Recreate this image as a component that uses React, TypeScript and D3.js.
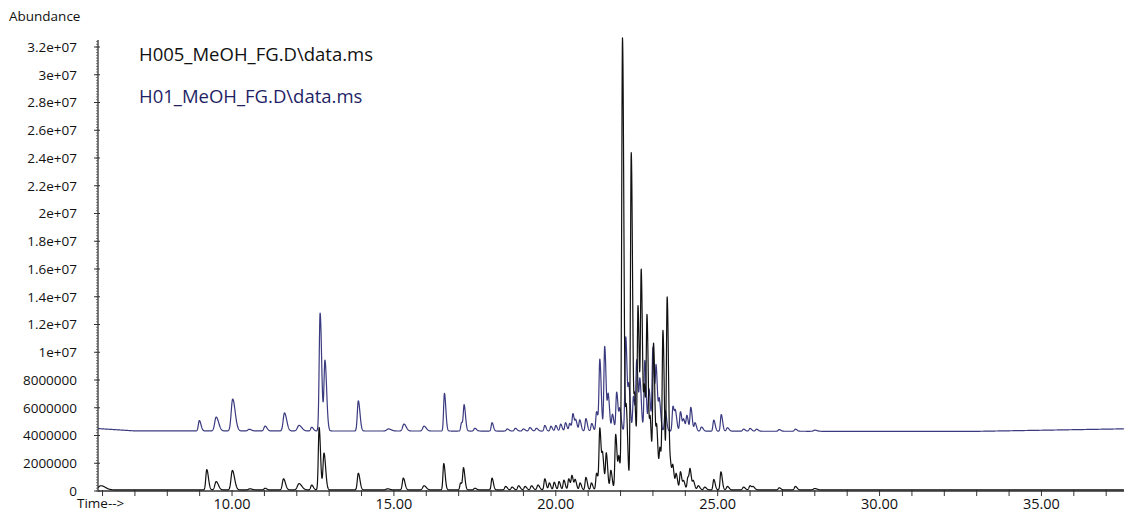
import React from "react";
import * as d3 from "d3";

// Chromatogram peaks: [retention time (min), height above baseline (×1e6 counts), width (min)]
const peaksH005: [number, number, number][] = [
  [5.95, 0.3, 0.08], [9.22, 1.46, 0.03], [9.51, 0.6, 0.04], [10.01, 1.4, 0.04], [10.55, 0.08, 0.04],
  [11.02, 0.12, 0.03], [11.59, 0.8, 0.035], [12.07, 0.45, 0.05], [12.46, 0.35, 0.03],
  [12.69, 4.5, 0.025], [12.84, 2.65, 0.03], [13.9, 1.2, 0.03], [14.8, 0.08, 0.04],
  [15.29, 0.85, 0.03], [15.93, 0.3, 0.04], [16.54, 1.9, 0.025], [17.06, 0.5, 0.025],
  [17.15, 1.55, 0.025], [17.5, 0.12, 0.03], [18.03, 0.85, 0.025], [18.45, 0.25, 0.03],
  [18.65, 0.2, 0.03], [18.85, 0.3, 0.03], [19.05, 0.25, 0.03], [19.25, 0.3, 0.03],
  [19.45, 0.35, 0.03], [19.66, 0.8, 0.025], [19.8, 0.5, 0.025], [19.95, 0.55, 0.025],
  [20.1, 0.6, 0.025], [20.25, 0.7, 0.025], [20.4, 0.8, 0.025], [20.5, 1.0, 0.025],
  [20.6, 0.7, 0.025], [20.75, 0.5, 0.025], [20.93, 0.9, 0.025], [21.1, 0.5, 0.025],
  [21.26, 1.2, 0.025], [21.36, 4.4, 0.025], [21.45, 2.2, 0.025], [21.56, 2.6, 0.025],
  [21.7, 1.4, 0.025], [21.85, 4.0, 0.025], [21.95, 2.2, 0.025], [22.06, 32.5, 0.025],
  [22.18, 5.5, 0.025], [22.33, 24.3, 0.025], [22.44, 6.0, 0.025], [22.54, 12.9, 0.025],
  [22.64, 15.1, 0.025], [22.74, 6.5, 0.025], [22.82, 11.5, 0.025], [22.92, 4.5, 0.025],
  [23.02, 10.3, 0.025], [23.12, 4.0, 0.025], [23.22, 2.8, 0.025], [23.31, 11.2, 0.025],
  [23.44, 13.8, 0.025], [23.55, 1.5, 0.025], [23.62, 1.4, 0.025], [23.72, 1.1, 0.025],
  [23.85, 1.3, 0.025], [23.95, 0.6, 0.025], [24.08, 0.9, 0.025], [24.15, 1.3, 0.025],
  [24.25, 0.6, 0.025], [24.4, 0.3, 0.03], [24.6, 0.2, 0.03], [24.88, 0.75, 0.025],
  [25.1, 1.3, 0.025], [25.3, 0.25, 0.03], [25.8, 0.2, 0.03], [26.0, 0.3, 0.03],
  [26.1, 0.2, 0.03], [26.9, 0.15, 0.03], [27.4, 0.25, 0.03], [28.0, 0.1, 0.04],
];

const peaksH01: [number, number, number][] = [
  [8.99, 0.75, 0.03], [9.51, 1.0, 0.045], [10.02, 2.3, 0.045], [10.53, 0.12, 0.04],
  [11.02, 0.35, 0.035], [11.62, 1.3, 0.04], [12.07, 0.4, 0.05], [12.46, 0.27, 0.03],
  [12.72, 8.5, 0.028], [12.87, 5.05, 0.03], [13.9, 2.17, 0.03], [14.83, 0.15, 0.05],
  [15.31, 0.5, 0.04], [15.93, 0.35, 0.04], [16.56, 2.72, 0.025], [17.09, 0.6, 0.025],
  [17.17, 1.8, 0.025], [17.5, 0.2, 0.03], [18.03, 0.6, 0.025], [18.5, 0.15, 0.03],
  [18.75, 0.2, 0.03], [19.0, 0.15, 0.03], [19.2, 0.25, 0.03], [19.4, 0.2, 0.03],
  [19.66, 0.4, 0.025], [19.85, 0.35, 0.025], [20.0, 0.4, 0.025], [20.15, 0.5, 0.025],
  [20.3, 0.6, 0.025], [20.43, 0.55, 0.025], [20.53, 1.23, 0.025], [20.62, 0.7, 0.025],
  [20.74, 0.8, 0.025], [20.93, 0.9, 0.025], [21.11, 0.55, 0.025], [21.26, 1.4, 0.025],
  [21.36, 5.1, 0.025], [21.51, 6.1, 0.025], [21.62, 2.5, 0.025], [21.75, 1.2, 0.025],
  [21.88, 2.8, 0.025], [21.98, 1.5, 0.025], [22.16, 6.8, 0.025], [22.26, 3.0, 0.025],
  [22.4, 2.5, 0.025], [22.5, 5.0, 0.025], [22.6, 3.5, 0.025], [22.75, 5.1, 0.025],
  [22.88, 3.0, 0.025], [23.0, 6.0, 0.025], [23.1, 4.4, 0.025], [23.2, 2.1, 0.025],
  [23.38, 1.5, 0.025], [23.62, 1.8, 0.025], [23.7, 1.2, 0.025], [23.85, 1.4, 0.025],
  [23.95, 0.8, 0.025], [24.05, 1.1, 0.025], [24.17, 1.7, 0.025], [24.3, 0.6, 0.025],
  [24.5, 0.3, 0.03], [24.88, 0.8, 0.025], [25.11, 1.2, 0.025], [25.3, 0.25, 0.03],
  [25.8, 0.15, 0.03], [26.0, 0.2, 0.03], [26.2, 0.15, 0.03], [26.9, 0.12, 0.03],
  [27.4, 0.15, 0.03], [28.0, 0.08, 0.04],
];

// Baseline knots (time, ×1e6 counts)
const baseH005T = [5.86, 37.55];
const baseH005V = [0.08, 0.08];
const baseH01T = [5.86, 7.0, 20.0, 30.0, 33.0, 37.55];
const baseH01V = [4.5, 4.33, 4.32, 4.3, 4.3, 4.48];

const yTicks = d3.range(0, 3.2e7 + 1, 2e6);
const xTicksMajor = [10, 15, 20, 25, 30, 35];
const legendNames = ["H005_MeOH_FG.D\\data.ms", "H01_MeOH_FG.D\\data.ms"];

const W = 1124;
const H = 513;
const FONT = "'Open Sans', 'Noto Sans', sans-serif";

const x = d3.scaleLinear().domain([5.86, 37.55]).range([98, 1124]);
const y = d3.scaleLinear().domain([0, 3.2e7]).range([491, 47]);

function buildTrace(peaks: [number, number, number][], bt: number[], bv: number[]) {
  const base = d3.scaleLinear().domain(bt).range(bv);
  const times = d3.range(5.86, 37.55, 0.005);
  return times.map((t) => {
    let v = base(t);
    for (const [p, h, w] of peaks) {
      const s = t < p ? w : w * 1.7;
      const z = (t - p) / s;
      if (Math.abs(z) < 8) v += h * Math.exp(-0.5 * z * z);
    }
    return [t, v * 1e6] as [number, number];
  });
}

function fmtY(v: number) {
  if (v < 1e7) return String(v);
  const m = v / 1e7;
  return `${+m.toFixed(1)}e+07`;
}

export default function App() {
  const line = d3
    .line<[number, number]>()
    .x((d) => x(d[0]))
    .y((d) => y(d[1]));

  const tH005 = buildTrace(peaksH005, baseH005T, baseH005V);
  const tH01 = buildTrace(peaksH01, baseH01T, baseH01V);

  const minorY = d3.range(0, 3.25e7, 2e5);
  const minorX = d3.range(6, 38, 1);

  return (
    <svg
      width={W}
      height={H}
      style={{ position: "absolute", left: 0, top: 0, background: "#fff" }}
      fontFamily={FONT}
    >
      <rect width={W} height={H} fill="#fff" />
      <text x={9} y={21} fontSize={13.5} fill="#111" fontWeight={500}>Abundance</text>

      {/* Y axis */}
      <line x1={98} x2={98} y1={40} y2={491} stroke="#333" strokeWidth={1.3} />
      {minorY.map((v) => (
        <line key={`ym${v}`} x1={96} x2={98} y1={y(v)} y2={y(v)} stroke="#555" strokeWidth={0.8} />
      ))}
      {yTicks.map((v) => (
        <g key={`y${v}`}>
          <line x1={94} x2={100} y1={y(v)} y2={y(v)} stroke="#333" strokeWidth={1} />
          <text x={77} y={y(v) + 4.8} fontSize={13.5} textAnchor="end" fill="#111" fontWeight={500}>
            {fmtY(v)}
          </text>
        </g>
      ))}

      {/* X axis */}
      <line x1={98} x2={1124} y1={491} y2={491} stroke="#333" strokeWidth={1.4} />
      {minorX.map((t) => (
        <line key={`xm${t}`} x1={x(t)} x2={x(t)} y1={490} y2={496} stroke="#333" strokeWidth={1} />
      ))}
      {xTicksMajor.map((t) => (
        <text key={`x${t}`} x={x(t)} y={509} fontSize={14.5} textAnchor="middle" fill="#111" fontWeight={500}>
          {t.toFixed(2)}
        </text>
      ))}
      <text x={77} y={508} fontSize={13.5} fill="#111" fontWeight={500}>Time--&gt;</text>

      {/* Traces */}
      <path d={line(tH01) || ""} fill="none" stroke="#3a3a80" strokeWidth={1.2} strokeLinejoin="round" />
      <path d={line(tH005) || ""} fill="none" stroke="#111" strokeWidth={1.2} strokeLinejoin="round" />

      {/* Legend */}
      <text x={139} y={61} fontSize={18.5} fill="#111">{legendNames[0]}</text>
      <text x={139} y={103} fontSize={18.5} fill="#1f1f66">{legendNames[1]}</text>
    </svg>
  );
}
